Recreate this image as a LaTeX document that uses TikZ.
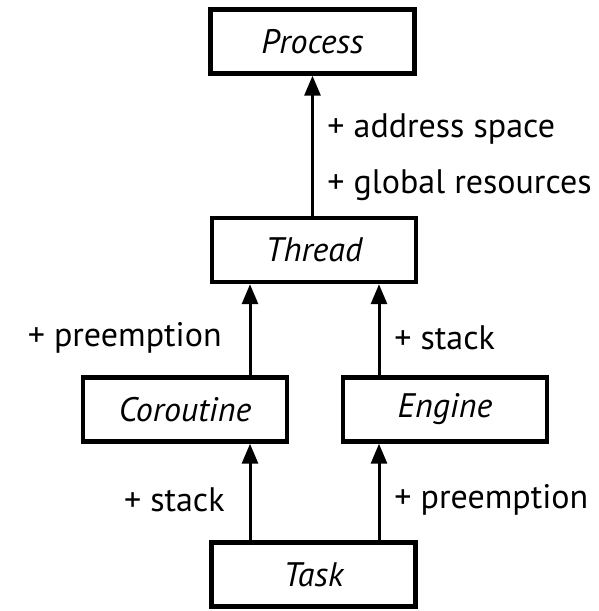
\documentclass[tikz,border=0pt]{standalone}
\usepackage{fontspec}
\setmainfont{PT Sans}
\usepackage{tikz}
\usetikzlibrary{arrows.meta}

\newcommand{\lblsize}{\fontsize{17}{20}\selectfont}
\tikzset{
	cls/.style={draw, line width=2.2pt, minimum width=102pt, minimum height=32pt, inner sep=0pt, font=\lblsize\itshape},
	feat/.style={inner sep=0pt, font=\lblsize},
	gen/.style={line width=1.5pt, -{Triangle[width=8pt,length=10pt]}}
}

\begin{document}
\begin{tikzpicture}[x=0.5pt,y=-0.5pt]
		\useasboundingbox (0,0) rectangle (599,611);
		\node[cls] (process) at (312.5,41.5) {Process};
		\node[cls] (thread) at (314,250) {Thread};
		\node[cls] (cor) at (185,409.5) {Coroutine};
		\node[cls] (eng) at (445,409.5) {Engine};
		\node[cls] (task) at (313.5,574.5) {Task};
		\coordinate (lx) at (250,0); % left column of arrows
		\coordinate (rx) at (379,0); % right column of arrows
		\draw[gen] (thread.north -| process) -- (process.south);
		\draw[gen] (cor.north -| lx) -- (thread.south -| lx);
		\draw[gen] (eng.north -| rx) -- (thread.south -| rx);
		\draw[gen] (task.north -| lx) -- (cor.south -| lx);
		\draw[gen] (task.north -| rx) -- (eng.south -| rx);
		\node[feat, anchor=west] (as) at (327,129) {+ address space};
		\node[feat, anchor=west] (gr) at (327,185) {+ global resources};
		\node[feat, anchor=east] (p1) at (222,338) {+ preemption};
		\node[feat, anchor=west] (s1) at (394,338) {+ stack};
		\node[feat, anchor=east] (s2) at (225,500) {+ stack};
		\node[feat, anchor=west] (p2) at (394,500) {+ preemption};
\end{tikzpicture}
\end{document}
